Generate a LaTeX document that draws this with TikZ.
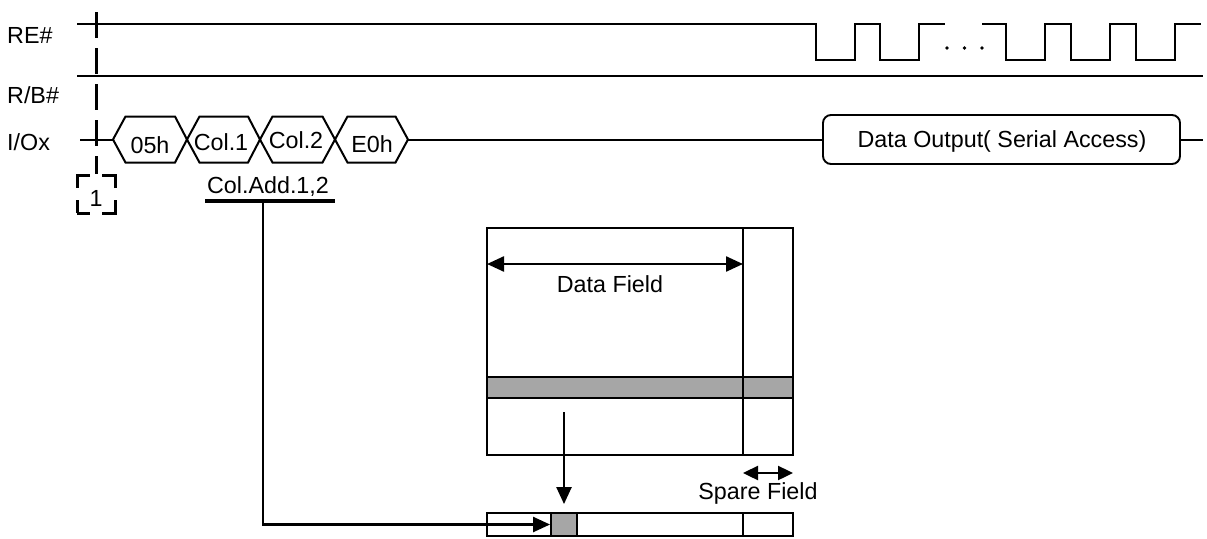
\documentclass[tikz,border=0pt]{standalone}
\usepackage{fontspec}
\setmainfont{Liberation Sans}
\usetikzlibrary{arrows.meta}
\definecolor{cellgray}{RGB}{166,166,166}
\begin{document}
\begin{tikzpicture}[x=1pt,y=-1pt,
  font=\fontsize{23.3}{27}\selectfont,
  sig/.style={line width=2pt},
  boxline/.style={line width=1.9pt},
  lbl/.style={inner sep=0pt, anchor=base},
  lblw/.style={inner sep=0pt, anchor=base west},
  arr/.style={line width=2.4pt, -{Triangle[length=17pt,width=15pt]}},
  dbl/.style={line width=2.4pt, {Triangle[length=17pt,width=15pt]}-{Triangle[length=17pt,width=15pt]}},
  sdbl/.style={line width=2.4pt, {Triangle[length=15pt,width=14pt]}-{Triangle[length=15pt,width=14pt]}},
  hexline/.style={line width=2pt, line join=miter},
  ]
\useasboundingbox (0,0) rectangle (1207,538);

% ---------- signal names ----------
\node[lblw] (reLbl) at (7,43) {RE\#};
\node[lblw] (rbLbl) at (7,103) {R/B\#};
\node[lblw] (ioLbl) at (7,150) {I/Ox};

% ---------- RE# waveform ----------
\draw[sig] (77,24) -- (816,24) -- (816,60) -- (855,60) -- (855,24) -- (880,24)
  -- (880,60) -- (919,60) -- (919,24) -- (945,24);
\draw[sig] (982,24) -- (1006,24) -- (1006,60) -- (1045,60) -- (1045,24) -- (1071,24)
  -- (1071,60) -- (1110,60) -- (1110,24) -- (1136,24) -- (1136,60) -- (1175,60)
  -- (1175,24) -- (1201,24);
\fill (947,48) circle (1.8) (964.5,48) circle (1.8) (982,48) circle (1.8);

% ---------- R/B# ----------
\draw[sig] (77,76) -- (1203,76);

% ---------- I/Ox bus ----------
\coordinate (ioStart) at (80,139.5);
\coordinate (h1L) at (113,139.5);
\coordinate (h4R) at (408,139.5);
\coordinate (ioEnd) at (1203,139.5);
\draw[sig] (ioStart) -- (h1L);
\draw[hexline] (113,139.5) -- (125.5,116.5) -- (175,116.5) -- (187,139.5) -- (175,162.5) -- (125.5,162.5) -- cycle;
\draw[hexline] (187,139.5) -- (199.5,116.5) -- (248,116.5) -- (260,139.5) -- (248,162.5) -- (199.5,162.5) -- cycle;
\draw[hexline] (260,139.5) -- (272.5,116.5) -- (322.5,116.5) -- (335,139.5) -- (322.5,162.5) -- (272.5,162.5) -- cycle;
\draw[hexline] (335,139.5) -- (347.5,116.5) -- (395.5,116.5) -- (408,139.5) -- (395.5,162.5) -- (347.5,162.5) -- cycle;
\node[lbl] (t05) at (150,153) {05h};
\node[lbl] (tc1) at (221,150) {Col.1};
\node[lbl] (tc2) at (296,148) {Col.2};
\node[lbl] (te0) at (372,152) {E0h};

\node[draw, boxline, rounded corners=8pt, minimum width=357pt, minimum height=49pt,
  inner sep=0pt] (dout) at (1001.5,139.5) {};
\node[lbl] (doutLbl) at (1002,147) {Data Output( Serial Access)};
\draw[sig] (h4R) -- (dout.west);
\draw[sig] (dout.east) -- (ioEnd);

% ---------- dashed marker ----------
\node[draw, line width=3pt, dash pattern=on 26pt off 12pt, dash phase=13pt,
  minimum width=38pt, minimum height=38pt, inner sep=0pt] (one) at (96,194) {};
\node[lbl] (oneLbl) at (96,206) {1};
\coordinate (dashTop) at (96,12);
\draw[line width=3pt, dash pattern=on 26pt off 10pt] (dashTop) -- (one.north);

% ---------- column address ----------
\node[lbl] (colAdd) at (268,193) {Col.Add.1,2};
\coordinate (ulL) at (205,201);
\coordinate (ulR) at (335,201);
\coordinate (ulM) at (263,201);
\draw[line width=4pt] (ulL) -- (ulR);

% ---------- page array ----------
\fill[cellgray] (487,377) rectangle (793,398);
\node[draw, boxline, minimum width=306pt, minimum height=227pt, inner sep=0pt]
  (page) at (640,341.5) {};
\draw[line width=2.4pt] (487,377) -- (793,377) (487,398) -- (793,398);
\coordinate (divTop) at (743,228);
\coordinate (divBot) at (743,455);
\draw[boxline] (divTop) -- (divBot);

\coordinate (dfL) at (487,264);
\coordinate (dfR) at (743,264);
\draw[dbl] (dfL) -- (dfR);
\node[lbl] (dfLbl) at (610,292) {Data Field};

\coordinate (sfL) at (743,473);
\coordinate (sfR) at (793,473);
\draw[sdbl] (sfL) -- (sfR);
\node[lbl] (sfLbl) at (758,499) {Spare Field};

% ---------- register ----------
\node[draw, boxline, minimum width=306pt, minimum height=23pt, inner sep=0pt]
  (reg) at (640,524.5) {};
\node[draw, boxline, fill=cellgray, minimum width=26pt, minimum height=23pt, inner sep=0pt]
  (cell) at (564,524.5) {};
\coordinate (regDivT) at (743,513);
\coordinate (regDivB) at (743,536);
\draw[boxline] (regDivT) -- (regDivB);

% ---------- arrows ----------
\coordinate (dsrc) at (564,412);
\draw[arr, shorten >=8pt] (dsrc) -- (cell.north);
\draw[arr] (ulM) |- (cell.west);
\end{tikzpicture}
\end{document}
